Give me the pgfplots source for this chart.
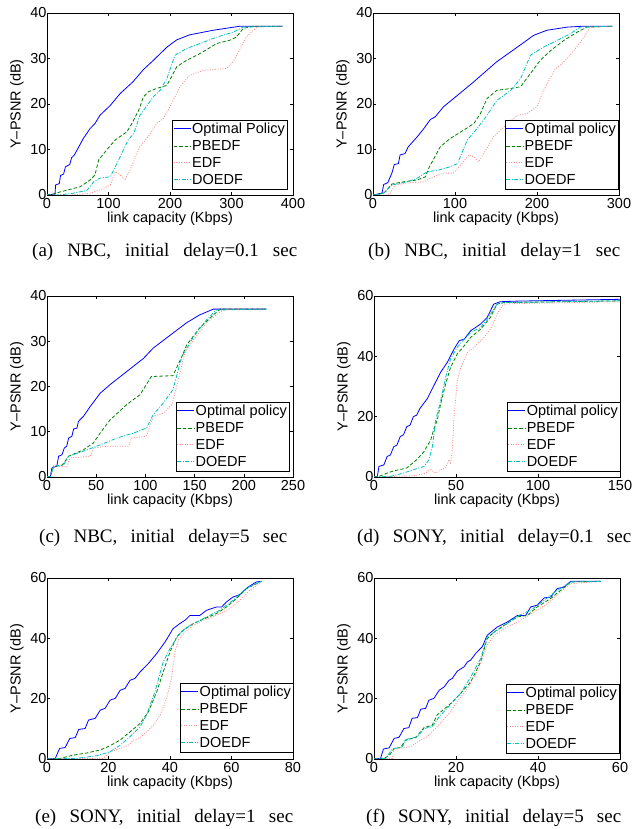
\documentclass[border=0pt]{standalone}
\usepackage{fontspec}
\setmainfont{Liberation Serif}
\newfontfamily\sansfont{Liberation Sans}
\usepackage{pgfplots}
\pgfplotsset{compat=1.18}

\definecolor{optc}{rgb}{0,0,1}
\definecolor{pbc}{rgb}{0,0.5,0}
\definecolor{edfc}{rgb}{1,0.55,0.55}
\definecolor{doc}{rgb}{0,0.75,0.75}

\newcommand{\lblfont}{\sansfont\fontsize{14.5}{16}\selectfont}
\newcommand{\capfont}{\fontsize{19}{21}\selectfont}

\pgfplotsset{
  psnr/.style={
    scale only axis, width=246pt, height=182pt,
    anchor=south west,
    xmin=0, ymin=0,
    axis line style={line width=0.7pt},
    tick style={black, line width=0.5pt},
    major tick length=3pt,
    tick align=inside,
    font=\lblfont,
    ticklabel style={font=\lblfont},
    /pgf/number format/assume math mode=true,
    yticklabel style={xshift=3pt},
    xlabel={link capacity (Kbps)},
    ylabel={Y–PSNR (dB)},
    xlabel style={at={(axis description cs:0.5,-0.132)}, anchor=center},
    ylabel style={at={(axis description cs:-0.122,0.5)}, anchor=center},
    legend style={font=\lblfont,
      at={(1,0)}, anchor=south east, yshift=6pt,
      inner xsep=1pt, inner ysep=1.1pt, row sep=1.4pt,
      nodes={inner xsep=1pt, inner ysep=2pt}},
    legend cell align=left,
    legend image code/.code={\draw[line width=0.9pt, ##1] (0pt,0pt) -- (17pt,0pt);},
  },
  opt/.style={draw=optc, line width=0.8pt},
  pb/.style={draw=pbc, line width=0.8pt, dash pattern=on 3.5pt off 2pt},
  edf/.style={draw=edfc, line width=0.8pt, dash pattern=on 1pt off 1.5pt},
  doe/.style={draw=doc, line width=0.8pt, dash pattern=on 4pt off 1.5pt on 1pt off 1.5pt},
}

\begin{document}
\begin{tikzpicture}
\useasboundingbox (0,0) rectangle (634pt,829pt);

% (a) NBC, 0.1 sec
\begin{axis}[psnr, at={(47pt,634pt)}, xmax=400, ymax=40,
  xtick={0,100,200,300,400}, ytick={0,10,20,30,40},
  legend style={xshift=-6pt}]
\addplot[opt] coordinates {(0,0) (13,0.2) (14,2.2) (20,2.5) (22,4.3) (27,4.6) (30,6.2) (37,6.7) (40,8.2) (44,8.7) (51,10.4) (59,12.4) (70,14.6) (78,15.7) (86,17.5) (103,19.7) (119,22.3) (140,24.9) (157,27.6) (173,29.6) (195,32.5) (211,34.1) (232,35.2) (270,36.2) (314,37.1) (383,37.1)};
\addplot[pb] coordinates {(0,0) (10,0.2) (22,0.7) (54,1.8) (70,3.3) (78,4.4) (84,7.7) (97,9.9) (111,12.1) (130,13.9) (138,15.7) (149,18.6) (157,21.6) (165,22.7) (178,23.4) (195,24.1) (211,28.2) (227,29.6) (249,31.1) (276,33.3) (297,34) (308,34.7) (319,36.6) (335,37.1) (383,37.1)};
\addplot[edf] coordinates {(0,0) (40,0) (70,0.4) (86,1.1) (103,2.2) (111,5.1) (119,4.4) (127,3.3) (135,5.5) (151,10.6) (168,13.5) (178,15.7) (189,16.8) (200,19.4) (216,23.8) (232,26.3) (254,27.4) (292,27.8) (303,29.3) (324,34.7) (341,36.9) (383,37.1)};
\addplot[doe] coordinates {(0,0) (20,0) (43,0.4) (65,1) (76,2.9) (86,3.7) (103,4) (119,8.4) (132,12.1) (141,13.5) (151,17.5) (173,21.6) (184,23) (195,25.6) (208,30.7) (227,32.2) (249,33.3) (276,34.7) (303,35.8) (319,36.9) (383,37.1)};
\legend{Optimal Policy, PBEDF, EDF, DOEDF}
\end{axis}

% (b) NBC, 1 sec
\begin{axis}[psnr, at={(373pt,634pt)}, xmax=300, ymax=40,
  xtick={0,100,200,300}, ytick={0,10,20,30,40},
  legend style={xshift=-1pt}]
\addplot[opt] coordinates {(0,0) (11,0.4) (13,2.3) (18,2.7) (23,4.8) (26,6.7) (31,6.9) (33,8.8) (39,9.1) (43,10.6) (54,12.8) (62,14.6) (70,16.6) (76,17.2) (86,19.4) (103,21.9) (123,24.9) (151,29.3) (176,32.5) (196,35.1) (212,36.2) (237,36.9) (257,37.1) (292,37.1)};
\addplot[pb] coordinates {(0,0) (8,0.2) (15,0.7) (23,2.4) (37,2.9) (54,3.3) (64,4) (68,5.9) (82,10.6) (94,12.4) (111,14.3) (123,15.7) (131,17.9) (139,21.2) (151,23) (168,23.4) (180,23.8) (192,26.7) (204,29.6) (217,31.8) (233,34) (249,35.8) (261,36.9) (292,37.1)};
\addplot[edf] coordinates {(0,0) (18,0) (21,0.4) (27,2.2) (40,2.6) (62,2.9) (74,4) (86,4.8) (98,4.8) (107,6.6) (117,8.8) (123,8.4) (129,7.3) (135,9.1) (147,12.8) (160,15) (176,17.5) (188,17.9) (200,19.4) (208,23) (221,27.4) (237,30) (253,33.6) (265,36.9) (292,37.1)};
\addplot[doe] coordinates {(0,0) (8,0.1) (13,0.4) (23,2.2) (42,2.9) (54,3.7) (66,5.1) (80,5.5) (94,6.2) (103,6.9) (115,12.1) (127,14.6) (139,17.5) (151,20.8) (168,23) (180,25.6) (192,30.7) (208,32.5) (225,34) (241,35.5) (253,36.9) (292,37.1)};
\legend{Optimal policy, PBEDF, EDF, DOEDF}
\end{axis}

% (c) NBC, 5 sec
\begin{axis}[psnr, at={(47pt,352pt)}, height=181pt, xmax=250, ymax=40,
  xtick={0,50,100,150,200,250}, ytick={0,10,20,30,40},
  legend style={xshift=-4pt}]
\addplot[opt] coordinates {(0,0) (3.4,0.1) (5,2) (10,2.4) (11.8,4.6) (15.2,4.9) (17.6,6.4) (20,6.8) (22,8.6) (25.3,9) (27,10.6) (30.4,10.8) (32,12.3) (37,13.4) (44,15.6) (54,18.5) (64,20.4) (81,23.3) (98,26.2) (108,28.5) (128,31.8) (142,34.1) (155,35.8) (169,37.1) (223,37.1)};
\addplot[pb] coordinates {(0,0) (3.4,0.1) (6.8,2.4) (15,2.5) (22,4.6) (37,6) (47,7.5) (54,9.7) (64,12.6) (81,16) (94.6,18.2) (106,22.2) (128,22.4) (137,26.6) (142,29.2) (155,32.9) (169,35.8) (176,37.1) (223,37.1)};
\addplot[edf] coordinates {(0,0) (3.4,0.1) (6.8,2.4) (20,2.2) (23.6,4.2) (44,4.6) (47,6.4) (61,6.8) (83,6.8) (86,8.6) (101,9) (108,13.4) (118,14.1) (127,16) (135,22.9) (140,27.4) (149,30.3) (162,34) (176,36.5) (182,37.1) (223,37.1)};
\addplot[doe] coordinates {(0,0) (3.4,0.1) (6.8,2.4) (17,2.7) (22,4.6) (37,5.7) (54,7.1) (71,8.6) (88,9.7) (101,10.8) (108,13.8) (118,16.3) (128,19.3) (137,26.6) (149,31) (162,34.7) (172,36.9) (223,37.1)};
\legend{Optimal policy, PBEDF, EDF, DOEDF}
\end{axis}

% (d) SONY, 0.1 sec
\begin{axis}[psnr, at={(374pt,352pt)}, height=181pt, xmax=150, ymax=60,
  xtick={0,50,100,150}, ytick={0,20,40,60}]
\addplot[opt] coordinates {(0,0) (2,0) (3,3.5) (6,4) (8,6.8) (10,7.3) (12,10) (14,10.6) (16,13.4) (18,14) (20,16.7) (22,17.2) (24,20) (26,20.5) (28,22.7) (32.5,26) (36.6,30.4) (40.7,34.8) (44.7,38) (48.8,42.4) (52,45.2) (55,45.7) (59,48.5) (65,50.7) (69,52.9) (73,57.3) (77,58.1) (87,58.3) (150,58.9)};
\addplot[pb] coordinates {(0,0) (4,0.4) (8,1.3) (12,2) (20,3) (26,5.7) (30.5,8.4) (34.6,12.3) (36.6,16.1) (38.6,18.9) (40.7,24.4) (43.7,30.9) (46.7,36.4) (50.8,40.8) (55,43.5) (59,46.3) (65,49) (71,52.9) (75,57.3) (79,57.8) (150,58.4)};
\addplot[edf] coordinates {(0,0) (24,0.4) (30.5,1.1) (34.6,2.4) (37.6,1.3) (40.7,2.4) (43.7,3) (45.7,5.7) (46.7,4.6) (47.8,9) (48.8,20) (50.8,32) (53,36.4) (57,41.4) (61,43) (67,46.3) (71,49) (75,54) (79,57.3) (87,57.5) (150,58.1)};
\addplot[doe] coordinates {(0,0) (10,0.2) (18,1.3) (24,2.4) (30.5,3.5) (33.5,5.7) (35.6,10.1) (37.6,18.9) (40.7,25.4) (43.7,33.1) (46.7,39.2) (50.8,43) (55,45.7) (59,47.9) (65,49.6) (69,52.3) (75,57.3) (79,57.8) (150,58.4)};
\legend{Optimal policy, PBEDF, EDF, DOEDF}
\end{axis}

% (e) SONY, 1 sec
\begin{axis}[psnr, at={(47pt,70pt)}, height=181pt, xmax=80, ymax=60,
  xtick={0,20,40,60,80}, ytick={0,20,40,60},
  legend style={yshift=1pt}]
\addplot[opt] coordinates {(0,0) (2.7,0.2) (4.1,3.5) (5.9,3.8) (7.4,6.8) (9.2,7.1) (10.3,9.8) (12.4,10.1) (13.5,12.9) (15.7,13.5) (17.3,16.2) (18.9,16.8) (20.5,19.5) (22.2,20.1) (23.8,22.8) (25.4,23.4) (27,26.1) (28.6,26.7) (30.3,28.9) (33,31.7) (35.7,35) (38.4,38.8) (41,43.2) (43.2,44.9) (44.9,46) (46.5,47.6) (49.7,47.6) (51.9,49.3) (55.1,50.4) (56.8,50.4) (58.4,52.1) (60.5,53.7) (62.7,54.5) (65.4,57) (68.1,58.7) (69.7,58.9)};
\addplot[pb] coordinates {(0,0) (4.3,0.2) (8.6,1.3) (13,2) (17.3,3) (20.5,4.4) (23.8,6.3) (27,9) (30.3,11.8) (33,15.7) (35.7,22.3) (37.8,28.9) (40,35.5) (42.2,40.5) (44.3,42.7) (47.6,44.9) (51.9,46.8) (55.1,48.2) (58.4,50.4) (61.6,53.2) (64.9,56.5) (69.7,58.9)};
\addplot[edf] coordinates {(0,0) (18.4,0.2) (20.5,2.4) (23.8,3.5) (26.5,4.6) (28.1,6.3) (30.3,7.1) (32.4,9) (34.6,11.2) (36.8,14.6) (38.9,20.1) (40.5,26.7) (41.6,35.5) (42.7,39.4) (44.9,42.1) (47.6,44.3) (50.8,46) (55.1,47.6) (59.5,49.9) (62.7,52.6) (65.9,55.9) (69.7,58.5)};
\addplot[doe] coordinates {(0,0) (9.7,0.2) (16.2,1.1) (20.5,2.4) (23.8,4.6) (27,7.4) (30.3,10.7) (32.4,14.6) (35.1,22.3) (37.8,32.2) (40,36.6) (42.7,41) (44.9,43.2) (47.6,44.9) (51.9,47.1) (56.2,49.3) (60.5,52.6) (64.9,56.7) (69.7,58.9)};
\legend{Optimal policy, PBEDF, EDF, DOEDF}
\end{axis}

% (f) SONY, 5 sec
\begin{axis}[psnr, at={(374pt,70pt)}, height=181pt, xmax=60, ymax=60,
  xtick={0,20,40,60}, ytick={0,20,40,60},
  legend style={xshift=-1pt}]
\addplot[opt] coordinates {(0,0) (1.6,0.2) (2.3,3.3) (3.7,3.7) (4.9,6.8) (6.1,7.2) (7.3,10.1) (8.5,10.4) (9.3,13.5) (10.6,13.7) (11.4,16.5) (12.6,16.8) (13.4,19.5) (14.6,20.1) (15.9,22.8) (17.1,23.9) (18.3,26.1) (19.1,26.7) (20.3,29.1) (22,30.6) (22.8,32.2) (23.6,32.8) (24.8,35) (26.4,37.2) (27.6,41) (30.1,43.8) (32.5,45.4) (35,47.6) (37,47.6) (38.2,50.4) (39.8,51) (41.5,53.4) (43.1,53.7) (44.7,56.5) (46.3,57) (48,58.9) (55.3,58.9)};
\addplot[pb] coordinates {(0,0) (2.4,0.2) (3.7,1.1) (4.9,3.5) (6.5,3.8) (7.7,6.3) (10.2,7.1) (12.2,10.4) (14.2,11.2) (15.4,14.6) (18.7,18.4) (21.1,21.7) (23.6,25.6) (26,32.2) (27.6,39.9) (29.3,42.1) (31.7,44.3) (35,47.1) (37.4,47.6) (39.8,50.4) (43.1,53.2) (45.5,55.9) (48,58.7) (55.3,58.9)};
\addplot[edf] coordinates {(0,0) (4.5,0.2) (4.9,3.3) (8.9,4.1) (11.4,6.3) (13,7.4) (15.4,10.7) (18.7,15.7) (20.3,19) (22.8,23.4) (25.2,28.9) (27.6,37.7) (29.3,41) (32.5,43.8) (35.8,46) (39,48.7) (42.3,51.5) (45.5,55.4) (48,58.1) (55.3,58.9)};
\addplot[doe] coordinates {(0,0) (2.8,0.2) (4.5,3.3) (6.9,4.1) (8.1,6.6) (10.6,7.4) (12.2,10.1) (14.2,10.7) (15.9,14) (18.7,18.1) (21.1,21.7) (23.6,27.2) (26,33.3) (27.6,40.5) (30.1,42.7) (32.5,44.9) (35,47.4) (38.2,49.3) (41.5,52.6) (44.7,55.9) (48,58.7) (55.3,58.9)};
\legend{Optimal policy, PBEDF, EDF, DOEDF}
\end{axis}

% captions
\node[anchor=base west, inner sep=0pt] at (32pt,572pt) {\capfont\makebox[265pt][s]{(a) NBC, initial delay=0.1 sec}};
\node[anchor=base west, inner sep=0pt] at (368pt,572pt) {\capfont\makebox[252pt][s]{(b) NBC, initial delay=1 sec}};
\node[anchor=base west, inner sep=0pt] at (39pt,286pt) {\capfont\makebox[248pt][s]{(c) NBC, initial delay=5 sec}};
\node[anchor=base west, inner sep=0pt] at (357pt,286pt) {\capfont\makebox[274pt][s]{(d) SONY, initial delay=0.1 sec}};
\node[anchor=base west, inner sep=0pt] at (35pt,6.5pt) {\capfont\makebox[258pt][s]{(e) SONY, initial delay=1 sec}};
\node[anchor=base west, inner sep=0pt] at (366pt,6.5pt) {\capfont\makebox[255pt][s]{(f) SONY, initial delay=5 sec}};
\end{tikzpicture}
\end{document}
